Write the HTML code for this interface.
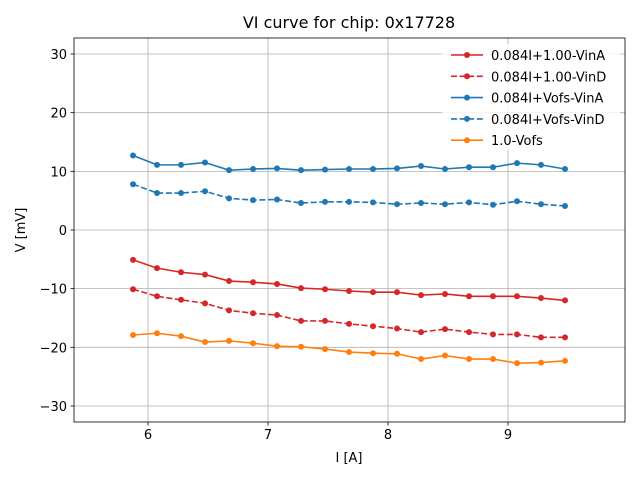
<!DOCTYPE html>
<html><head><meta charset="utf-8"><style>
body{margin:0;background:#fff}
svg{display:block;font-family:"DejaVu Sans","Liberation Sans",sans-serif}
</style></head><body>
<svg id="chart" width="640" height="480" xmlns="http://www.w3.org/2000/svg">
<rect width="640" height="480" fill="#fff"/>
<text x="349" y="28" font-size="16" text-anchor="middle">VI curve for chip: 0x17728</text>
<text x="349" y="462" font-size="13" text-anchor="middle">I [A]</text>
<text x="25" y="230" font-size="13" text-anchor="middle" transform="rotate(-90 25 230)">V [mV]</text>
<g id="grid"></g><g id="series"></g><g id="axes"></g><g id="legend"><rect x="442" y="44" width="178" height="106" fill="#fff" opacity="0.8"/></g>
</svg>
<script>
const xValues=[5.875,6.075,6.275,6.475,6.675,6.875,7.075,7.275,7.475,7.675,7.875,8.075,8.275,8.475,8.675,8.875,9.075,9.275,9.475];
const vinA100=[-5.1,-6.5,-7.2,-7.6,-8.7,-8.9,-9.2,-9.9,-10.1,-10.4,-10.6,-10.6,-11.1,-10.9,-11.3,-11.3,-11.3,-11.6,-12.0];
const vinD100=[-10.1,-11.3,-11.9,-12.5,-13.7,-14.2,-14.5,-15.5,-15.5,-16.0,-16.4,-16.8,-17.4,-16.9,-17.4,-17.8,-17.8,-18.3,-18.3];
const vinAofs=[12.7,11.1,11.1,11.5,10.2,10.4,10.5,10.2,10.3,10.4,10.4,10.5,10.9,10.4,10.7,10.7,11.4,11.1,10.4];
const vinDofs=[7.8,6.3,6.3,6.6,5.4,5.1,5.2,4.6,4.8,4.8,4.7,4.4,4.6,4.4,4.7,4.3,4.9,4.4,4.1];
const vofs=[-17.9,-17.6,-18.1,-19.1,-18.9,-19.3,-19.8,-19.9,-20.3,-20.8,-21.0,-21.1,-22.0,-21.4,-22.0,-22.0,-22.7,-22.6,-22.3];
const xTicks=[6,7,8,9];
const yTicks=[-30,-20,-10,0,10,20,30];
const legendLabels=["0.084I+1.00-VinA","0.084I+1.00-VinD","0.084I+Vofs-VinA","0.084I+Vofs-VinD","1.0-Vofs"];
const L=74,R=625,T=38,B=422,xmin=5.383,xmax=9.975,ymin=-32.73,ymax=32.73;
const sx=v=>L+(v-xmin)/(xmax-xmin)*(R-L);
const sy=v=>B-(v-ymin)/(ymax-ymin)*(B-T);
const NS="http://www.w3.org/2000/svg";
function mk(tag,attrs,parent){const e=document.createElementNS(NS,tag);for(const k in attrs)e.setAttribute(k,attrs[k]);parent.appendChild(e);return e;}
const grid=document.getElementById('grid'),axes=document.getElementById('axes'),ser=document.getElementById('series'),leg=document.getElementById('legend');
xTicks.forEach(t=>{const x=sx(t);
 const g=mk('line',{x1:x,x2:x,y1:T,y2:B,stroke:'#b0b0b0','stroke-width':0.8},grid);
 
 mk('line',{x1:x,x2:x,y1:B,y2:B+3.5,stroke:'#000','stroke-width':0.8},axes);
 const tx=mk('text',{x:x,y:B+17,'font-size':13,'text-anchor':'middle'},axes);tx.textContent=t;
 });
yTicks.forEach(t=>{const y=sy(t);
 const g=mk('line',{x1:L,x2:R,y1:y,y2:y,stroke:'#b0b0b0','stroke-width':0.8},grid);
 
 mk('line',{x1:L-3.5,x2:L,y1:y,y2:y,stroke:'#000','stroke-width':0.8},axes);
 const tx=mk('text',{x:L-7,y:y+5,'font-size':13,'text-anchor':'end'},axes);tx.textContent=t<0?'\u2212'+(-t):t;
 });
const fr=mk('rect',{x:L,y:T,width:R-L,height:B-T,fill:'none',stroke:'#000','stroke-width':0.8},axes);

const series=[[vinA100,'#d62728',false],[vinD100,'#d62728',true],[vinAofs,'#1f77b4',false],[vinDofs,'#1f77b4',true],[vofs,'#ff7f0e',false]];
const names=['series-vina-100','series-vind-100','series-vina-vofs','series-vind-vofs','series-vofs'];
series.forEach((s,i)=>{const [vals,c,d]=s;
 const g=mk('g',{},ser);
 const pts=vals.map((v,j)=>sx(xValues[j])+','+sy(v)).join(' ');
 const a={points:pts,fill:'none',stroke:c,'stroke-width':1.6};if(d)a['stroke-dasharray']='6,2.6';
 mk('polyline',a,g);
 vals.forEach((v,j)=>{const p=mk('circle',{cx:sx(xValues[j]),cy:sy(v),r:3,fill:c},g);
  });
 const ly=55+i*21.3;
 const lg=mk('g',{},leg);
 const la={x1:451,x2:483,y1:ly,y2:ly,stroke:c,'stroke-width':1.6};if(d)la['stroke-dasharray']='6,2.6';
 mk('line',la,lg);mk('circle',{cx:467,cy:ly,r:3,fill:c},lg);
 const t=mk('text',{x:491,y:ly+5,'font-size':13},lg);t.textContent=legendLabels[i];});
</script>
</body></html>
